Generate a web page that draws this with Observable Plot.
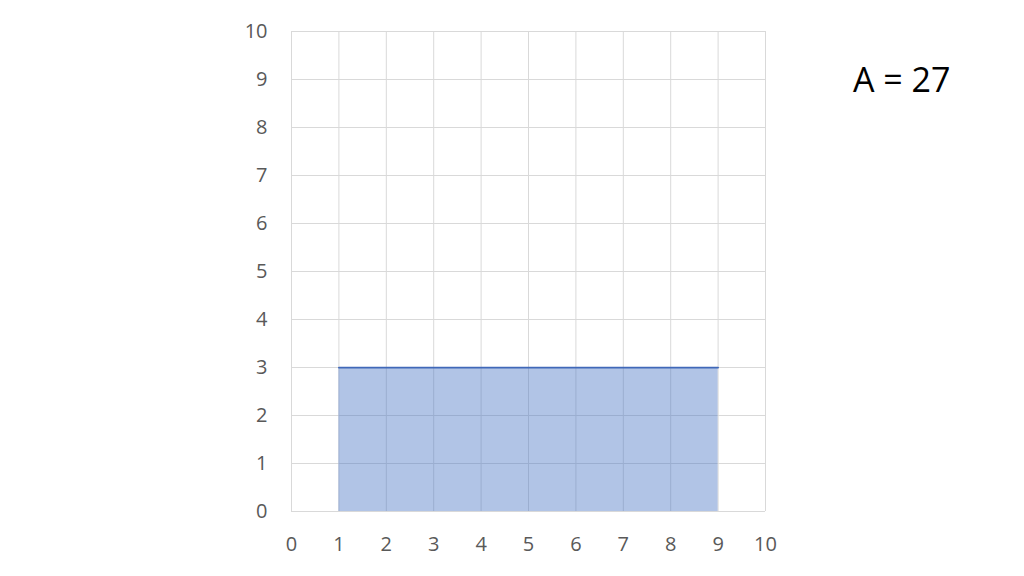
<!DOCTYPE html>
<html>
<head>
<meta charset="utf-8">
<script src="https://cdn.jsdelivr.net/npm/d3@7"></script>
<script src="https://cdn.jsdelivr.net/npm/@observablehq/plot@0.6"></script>
<style>
  html, body { margin: 0; padding: 0; background: #fff; }
  #wrap { position: relative; width: 1024px; height: 576px; overflow: hidden; }
  #label { position: absolute; left: 853px; top: 62px; font-family: "Open Sans", sans-serif; font-size: 34px; color: #000; line-height: 1; white-space: nowrap; }
</style>
</head>
<body>
<div id="wrap"><div id="label">A = 27</div></div>
<script>
const xValues = [1, 9];
const yValues = [3, 3];
const xTicks = [0, 1, 2, 3, 4, 5, 6, 7, 8, 9, 10];
const yTicks = [0, 1, 2, 3, 4, 5, 6, 7, 8, 9, 10];
const areaLabel = "A = 27";

const data = xValues.map((x, i) => ({x, y: yValues[i]}));
document.getElementById("label").textContent = areaLabel;

const chart = Plot.plot({
  width: 1024,
  height: 576,
  marginLeft: 291,
  marginRight: 259,
  marginTop: 31,
  marginBottom: 65,
  style: {fontFamily: "'Open Sans', sans-serif", fontSize: "20px", color: "#595959", background: "transparent"},
  x: {domain: [0, 10], ticks: xTicks, tickSize: 0, tickPadding: 25, label: null},
  y: {domain: [0, 10], ticks: yTicks, tickSize: 0, tickPadding: 24, label: null},
  marks: [
    Plot.ruleX(xTicks, {stroke: "#d9d9d9", strokeWidth: 1}),
    Plot.ruleY(yTicks, {stroke: "#d9d9d9", strokeWidth: 1}),
    Plot.areaY(data, {x: "x", y: "y", fill: "#4472c4", fillOpacity: 0.42}),
    Plot.lineY(data, {x: "x", y: "y", stroke: "#4068b8", strokeWidth: 1.75})
  ]
});
chart.style.position = "absolute";
chart.style.left = "0";
chart.style.top = "0";
document.getElementById("wrap").appendChild(chart);
</script>
</body>
</html>
